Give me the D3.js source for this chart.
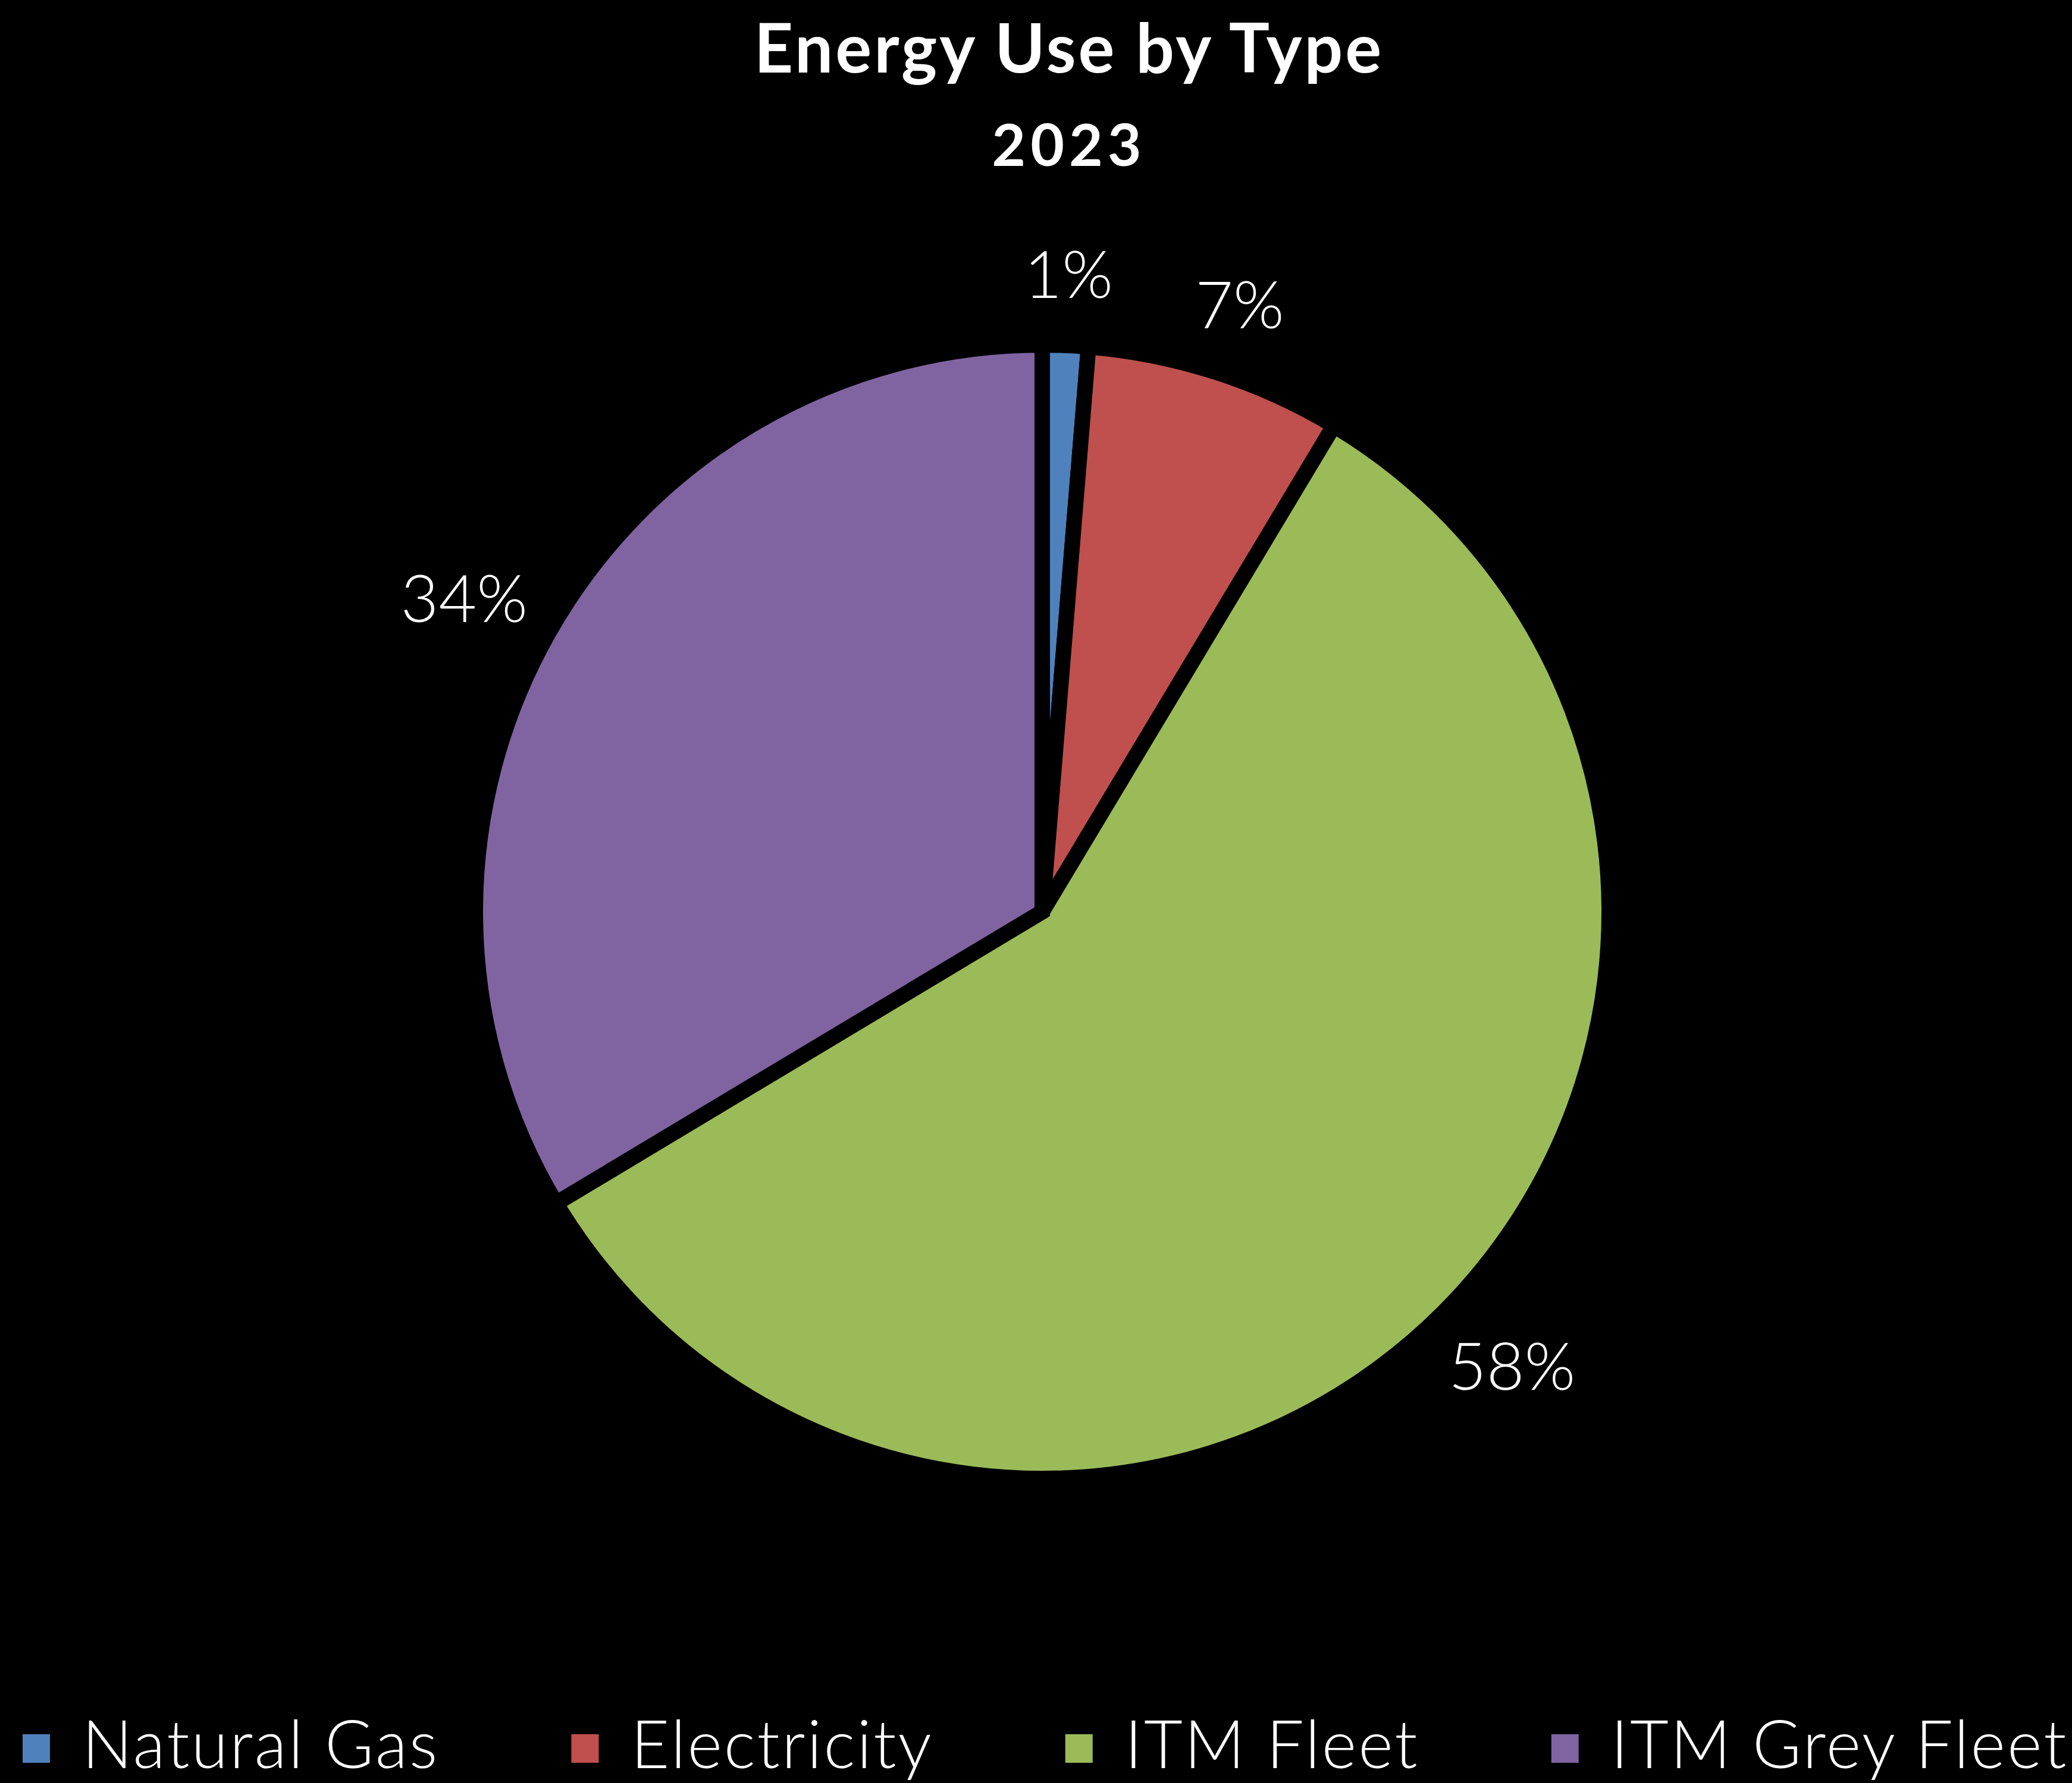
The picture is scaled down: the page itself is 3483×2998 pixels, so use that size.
<!DOCTYPE html>
<html>
<head>
<meta charset="utf-8">
<script src="https://cdn.jsdelivr.net/npm/d3@7"></script>
<style>
  body { margin: 0; background: #000; }
</style>
</head>
<body>
<div id="chart"></div>
<script>
var categories = ["Natural Gas", "Electricity", "ITM Fleet", "ITM Grey Fleet"];
var values = [1.3, 7.3, 57.8, 33.6];
var colors = ["#4F81BD", "#C0504D", "#9BBB59", "#8064A2"];
var titleLines = ["Energy Use by Type", "2023"];

var width = 3483;
var height = 2998;
var cx = 1752;
var cy = 1533;
var radius = 953;
var labelGap = 70;

var svg = d3.select("#chart")
  .append("svg")
  .attr("width", width)
  .attr("height", height)
  .style("background", "#000");

var data = categories.map(function(c, i) {
  return { name: c, value: values[i], color: colors[i] };
});
var total = d3.sum(values);

var pie = d3.pie()
  .sort(null)
  .value(function(d) { return d.value; });

var arc = d3.arc()
  .innerRadius(0)
  .outerRadius(radius);

var g = svg.append("g")
  .attr("transform", "translate(" + [cx, cy] + ")");

g.selectAll("path")
  .data(pie(data))
  .enter()
  .append("path")
  .attr("d", arc)
  .attr("fill", function(d) { return d.data.color; })
  .attr("stroke", "#000")
  .attr("stroke-width", 26)
  .attr("stroke-linejoin", "miter");

var pct = d3.format(".0%");

// labels sit just outside the pie, pushed out by half their box
g.selectAll("text.pct")
  .data(pie(data))
  .enter()
  .append("text")
  .attr("class", "pct")
  .attr("text-anchor", "middle")
  .attr("dominant-baseline", "central")
  .attr("fill", "#fff")
  .style("font-family", "Lato, 'Open Sans', sans-serif")
  .style("font-weight", 300)
  .style("font-size", "110px")
  .text(function(d) { return pct(d.data.value / total); })
  .attr("transform", function(d) {
    var a = (d.startAngle + d.endAngle) / 2;
    var ux = Math.sin(a), uy = -Math.cos(a);
    var box = this.getBBox();
    var r = radius - 13 + labelGap;
    var x = ux * r + ux * box.width / 2;
    var y = uy * r + uy * box.height / 2;
    return "translate(" + [x, y] + ")";
  });

// title
svg.append("text")
  .attr("x", 1797)
  .attr("y", 122)
  .attr("text-anchor", "middle")
  .attr("fill", "#fff")
  .style("font-family", "Lato, sans-serif")
  .style("font-weight", 700)
  .style("font-size", "114px")
  .style("letter-spacing", "4px")
  .text(titleLines[0]);

svg.append("text")
  .attr("x", 1797)
  .attr("y", 279)
  .attr("text-anchor", "middle")
  .attr("fill", "#fff")
  .style("font-family", "Lato, sans-serif")
  .style("font-weight", 700)
  .style("font-size", "98px")
  .style("letter-spacing", "8px")
  .text(titleLines[1]);

// legend, laid out left to right
var legend = svg.append("g")
  .attr("transform", "translate(38, 2940)");

var xPos = 0;
data.forEach(function(d) {
  var item = legend.append("g")
    .attr("transform", "translate(" + [xPos, 0] + ")");
  item.append("rect")
    .attr("x", 0)
    .attr("y", -24)
    .attr("width", 46)
    .attr("height", 48)
    .attr("fill", d.color);
  var t = item.append("text")
    .attr("x", 100)
    .attr("y", 33)
    .attr("fill", "#fff")
    .style("font-family", "Lato, 'Open Sans', sans-serif")
    .style("font-weight", 300)
    .style("font-size", "112px")
    .style("letter-spacing", "3px")
    .text(d.name);
  xPos += 100 + t.node().getComputedTextLength() + 222;
});
</script>
</body>
</html>
